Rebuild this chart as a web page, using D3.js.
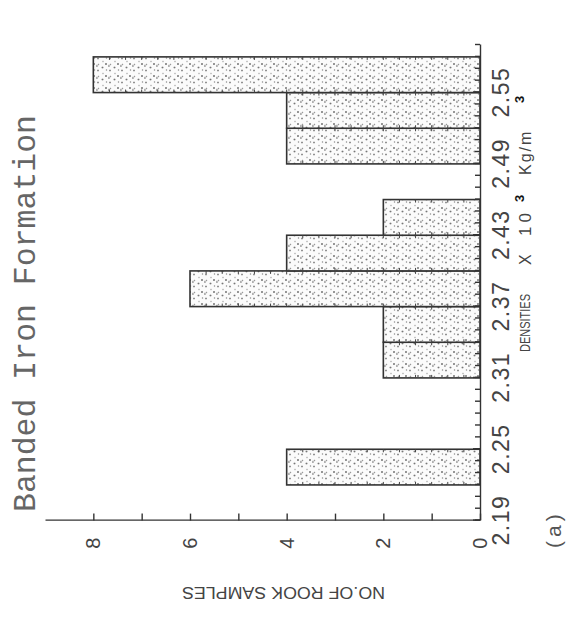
<!DOCTYPE html>
<html><head><meta charset="utf-8">
<script src="https://cdn.jsdelivr.net/npm/d3@7"></script>
<style>body{margin:0;background:#fff}svg{display:block}</style>
</head><body>
<svg id="c" width="573" height="624"></svg>
<script>
// ---- data ----
const binStart = [2.22, 2.31, 2.34, 2.37, 2.40, 2.43, 2.49, 2.52, 2.55];
const binEnd   = [2.25, 2.34, 2.37, 2.40, 2.43, 2.46, 2.52, 2.55, 2.58];
const counts   = [4, 2, 2, 6, 4, 2, 4, 4, 8];
const densityTickLabels = ["2.19", "2.25", "2.31", "2.37", "2.43", "2.49", "2.55"];
const densityDomain = [2.19, 2.59];
const countDomain = [0, 9];
const countTickLabels = [0, 2, 4, 6, 8];
const titleText = "Banded Iron Formation";
const yTitleText = "NO.OF ROOK SAMPLES";
const panelText = "(a)";

// ---- drawing ----
const svg = d3.select("#c");
svg.append("rect").attr("width", 573).attr("height", 624).attr("fill", "#fff");

const defs = svg.append("defs");
const pat = defs.append("pattern").attr("id", "stip").attr("patternUnits", "userSpaceOnUse")
  .attr("width", 12).attr("height", 12);
pat.append("rect").attr("width", 12).attr("height", 12).attr("fill", "#fbfbfb");
[[1.5,2,"#888",0.9],[7.5,2.5,"#999",0.8],[4.5,6.5,"#777",0.9],[10.5,7,"#aaa",0.8],[2,10.5,"#999",0.8],[8,10,"#666",0.9]]
  .forEach(d => pat.append("circle").attr("cx", d[0]).attr("cy", d[1]).attr("r", d[3]).attr("fill", d[2]));
pat.append("rect").attr("x", 5).attr("y", 0.5).attr("width", 2.2).attr("height", 0.9).attr("fill", "#666");

const g = svg.append("g").attr("transform", "translate(0,600) rotate(-90)");
const x = d3.scaleLinear().domain(densityDomain).range([79.4, 555]);
const y = d3.scaleLinear().domain(countDomain).range([480, 45]);

const bars = binStart.map((s, i) => ({ s, e: binEnd[i], c: counts[i] }));

g.selectAll("rect.bar").data(bars).join("rect").attr("class", "bar")
  .attr("x", d => x(d.s)).attr("width", d => x(d.e) - x(d.s))
  .attr("y", d => y(d.c)).attr("height", d => y(0) - y(d.c))
  .attr("fill", "url(#stip)").attr("stroke", "#333").attr("stroke-width", 1.6);

// small ticks along bar long edges
bars.forEach(b => {
  const steps = d3.range(1, b.c * 3).map(k => k / 3);
  g.selectAll(null).data(steps).join("line")
    .attr("x1", x(b.s)).attr("x2", x(b.s) + 3)
    .attr("y1", v => y(v)).attr("y2", v => y(v))
    .attr("stroke", "#444").attr("stroke-width", 1);
  g.selectAll(null).data(steps).join("line")
    .attr("x1", x(b.e)).attr("x2", x(b.e) - 3)
    .attr("y1", v => y(v)).attr("y2", v => y(v))
    .attr("stroke", "#444").attr("stroke-width", 1);
});

const minorTicks = d3.range(0, 41).map(i => +(densityDomain[0] + i * 0.01).toFixed(2));
const labelVals = densityTickLabels.map(Number);

// density axis (minor ticks)
const xa = g.append("g").attr("transform", `translate(0,${y(0)})`)
  .call(d3.axisBottom(x).tickValues(minorTicks).tickSize(-5).tickSizeOuter(0).tickFormat(""));
// labelled ticks
const xb = g.append("g").attr("transform", `translate(0,${y(0)})`)
  .call(d3.axisBottom(x).tickValues(labelVals).tickSize(-7).tickSizeOuter(0).tickPadding(13)
    .tickFormat((d, i) => densityTickLabels[i]));
xb.select(".domain").remove();
xb.selectAll("text").attr("font-family", "'Liberation Sans', Arial, sans-serif")
  .attr("font-size", 23).attr("letter-spacing", 1.5).attr("fill", "#444");

// count axis
const ya = g.append("g").attr("transform", `translate(${x(densityDomain[0])},0)`)
  .call(d3.axisLeft(y).tickValues(d3.range(countDomain[0], countDomain[1])).tickSize(-7).tickSizeOuter(0)
    .tickPadding(17).tickFormat(d => countTickLabels.includes(d) ? d : ""));
ya.selectAll("text").attr("font-family", "'Liberation Sans', Arial, sans-serif")
  .attr("font-size", 20).attr("fill", "#444");

[xa, xb, ya].forEach(a => {
  a.selectAll("path,line").attr("stroke", "#333").attr("stroke-width", 1.4);
});

// title
g.append("text").attr("x", 88).attr("y", 35)
  .attr("font-family", "'Liberation Mono', 'Courier New', monospace").attr("font-size", 31.5)
  .attr("fill", "#666").text(titleText);

// count axis title (upside-down in final image)
g.append("text").attr("transform", "translate(13,283.5) rotate(-90)")
  .attr("text-anchor", "middle").attr("font-family", "'Liberation Sans Narrow', 'Liberation Sans', Arial, sans-serif")
  .attr("font-size", 17).attr("fill", "#444").attr("textLength", 203).attr("lengthAdjust", "spacingAndGlyphs")
  .text(yTitleText);

// density axis title
const dt = g.append("g").attr("font-family", "'Liberation Sans', Arial, sans-serif").attr("fill", "#444");
dt.append("text").attr("x", 248).attr("y", 530).attr("font-size", 14)
  .attr("textLength", 58).attr("lengthAdjust", "spacingAndGlyphs").text("DENSITIES");
dt.append("text").attr("x", 335).attr("y", 531).attr("font-size", 16).text("X");
dt.append("text").attr("x", 364).attr("y", 531).attr("font-size", 17).attr("letter-spacing", 4).text("10");
dt.append("text").attr("x", 398).attr("y", 524).attr("font-size", 13).attr("font-weight", "bold").attr("fill", "#111").text("3");
dt.append("text").attr("x", 425).attr("y", 531).attr("font-size", 16).attr("letter-spacing", 2).text("Kg/m");
dt.append("text").attr("x", 497).attr("y", 524).attr("font-size", 13).attr("font-weight", "bold").attr("fill", "#111").text("3");

// panel label
g.append("text").attr("x", 52).attr("y", 561)
  .attr("font-family", "'Liberation Sans', Arial, sans-serif").attr("font-size", 21)
  .attr("letter-spacing", 4).attr("fill", "#555").text(panelText);
</script>
</body></html>
